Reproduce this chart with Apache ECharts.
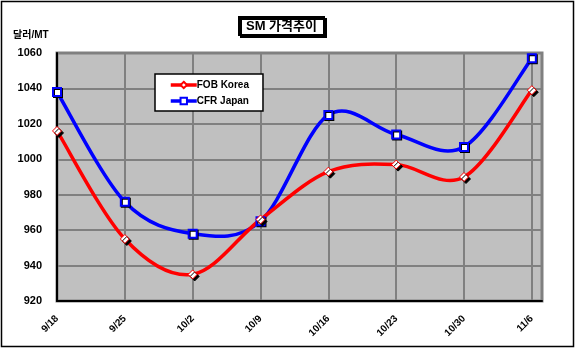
<!DOCTYPE html>
<html>
<head>
<meta charset="utf-8">
<script src="https://cdn.jsdelivr.net/npm/echarts@6/dist/echarts.min.js"></script>
<style>
    html, body { margin: 0; padding: 0; background: #fff; }
    #chart { width: 576px; height: 351px; }
</style>
</head>
<body>
<div id="chart"></div>
<script>
    // 날짜 / 가격 (달러/MT)
    const dates = ['9/18', '9/25', '10/2', '10/9', '10/16', '10/23', '10/30', '11/6'];
    const fobKorea = [1016, 955, 935, 966, 993, 997, 990, 1039];
    const cfrJapan = [1038, 976, 958, 965, 1025, 1014, 1007, 1057];
    const yTicks = [920, 940, 960, 980, 1000, 1020, 1040, 1060];

    const font = 'Arial, "Liberation Sans", "Noto Sans CJK KR", sans-serif';
    const toPoints = arr => arr.map((v, i) => [i, v]);

    // 엑셀식 곡선 (Catmull-Rom -> bezier), 구간마다 그림
    function smoothSegment(arr, color) {
        return function (params, api) {
            const i = params.dataIndex;
            if (i >= arr.length - 1) return null;
            const pt = k => api.coord([Math.max(0, Math.min(arr.length - 1, k)), arr[Math.max(0, Math.min(arr.length - 1, k))]]);
            const p0 = pt(i - 1), p1 = pt(i), p2 = pt(i + 1), p3 = pt(i + 2);
            return {
                type: 'bezierCurve',
                shape: {
                    x1: p1[0], y1: p1[1],
                    x2: p2[0], y2: p2[1],
                    cpx1: p1[0] + (p2[0] - p0[0]) / 6, cpy1: p1[1] + (p2[1] - p0[1]) / 6,
                    cpx2: p2[0] - (p3[0] - p1[0]) / 6, cpy2: p2[1] - (p3[1] - p1[1]) / 6
                },
                style: { stroke: color, lineWidth: 3.5, fill: null, lineCap: 'round' }
            };
        };
    }

    const chart = echarts.init(document.getElementById('chart'));
    chart.setOption({
        animation: false,
        backgroundColor: '#fff',
        textStyle: { fontFamily: font },
        title: {
            text: 'SM 가격추이',
            left: 239,
            top: 17,
            padding: [3, 7, 2, 7],
            borderColor: '#000',
            borderWidth: 2,
            backgroundColor: '#fff',
            shadowColor: '#000',
            shadowOffsetX: 2,
            shadowOffsetY: 2,
            textStyle: { fontSize: 13, fontWeight: 'bold', color: '#000', fontFamily: font }
        },
        graphic: [{
            type: 'rect',
            shape: { x: 1.5, y: 1.5, width: 572, height: 345 },
            style: { fill: null, stroke: '#000', lineWidth: 1.5 },
            z: 100
        }],
        legend: {
            orient: 'vertical',
            left: 155,
            top: 74,
            padding: [6, 14, 5, 14],
            itemGap: 6,
            itemWidth: 26,
            itemHeight: 8,
            backgroundColor: '#fff',
            borderColor: '#000',
            borderWidth: 1.5,
            textStyle: { fontSize: 10, fontWeight: 'bold', color: '#000', fontFamily: font, padding: [0, 0, 0, -5] },
            data: [
                { name: 'FOB Korea', lineStyle: { color: '#ff0000', width: 3.5, opacity: 1 } },
                { name: 'CFR Japan', lineStyle: { color: '#0000ff', width: 3.5, opacity: 1 } }
            ]
        },
        grid: {
            left: 57,
            right: 34,
            top: 53,
            bottom: 50,
            show: true,
            backgroundColor: '#c0c0c0',
            borderColor: '#808080',
            borderWidth: 3
        },
        xAxis: {
            type: 'value',
            min: 0,
            max: 7.15,
            interval: 1,
            axisLine: { onZero: false, lineStyle: { color: '#000', width: 2 } },
            axisTick: { show: false },
            splitLine: { lineStyle: { color: '#808080', width: 2 } },
            axisLabel: {
                rotate: 45,
                margin: 16,
                showMaxLabel: false,
                fontSize: 10,
                fontWeight: 'bold',
                color: '#000',
                formatter: v => dates[v] || ''
            }
        },
        yAxis: {
            type: 'value',
            name: '달러/MT',
            nameLocation: 'end',
            nameGap: 13,
            nameTextStyle: { fontSize: 10, fontWeight: 'bold', color: '#000', align: 'left', padding: [0, 0, 0, -44] },
            min: yTicks[0],
            max: yTicks[yTicks.length - 1],
            interval: 20,
            axisLine: { show: true, lineStyle: { color: '#000', width: 2 } },
            axisTick: { show: false },
            splitLine: { lineStyle: { color: '#808080', width: 2 } },
            axisLabel: { margin: 15, fontSize: 11, fontWeight: 'bold', color: '#000', formatter: v => String(v) }
        },
        series: [
            {
                type: 'custom',
                renderItem: smoothSegment(cfrJapan, '#0000ff'),
                data: toPoints(cfrJapan),
                z: 2
            },
            {
                type: 'custom',
                renderItem: smoothSegment(fobKorea, '#ff0000'),
                data: toPoints(fobKorea),
                z: 2
            },
            {
                name: 'FOB Korea',
                type: 'line',
                data: toPoints(fobKorea),
                lineStyle: { color: '#ff0000', width: 3.5, opacity: 0 },
                symbol: 'diamond',
                symbolSize: 9,
                itemStyle: {
                    color: '#fff',
                    borderColor: '#ff0000',
                    borderWidth: 1,
                    shadowColor: '#000',
                    shadowOffsetX: 2,
                    shadowOffsetY: 2
                },
                z: 4
            },
            {
                name: 'CFR Japan',
                type: 'line',
                data: toPoints(cfrJapan),
                lineStyle: { color: '#0000ff', width: 3.5, opacity: 0 },
                symbol: 'rect',
                symbolSize: 8,
                itemStyle: {
                    color: '#fff',
                    borderColor: '#0000ff',
                    borderWidth: 2,
                    shadowColor: '#000',
                    shadowOffsetX: 1,
                    shadowOffsetY: 1
                },
                z: 3
            }
        ]
    });
</script>
</body>
</html>
